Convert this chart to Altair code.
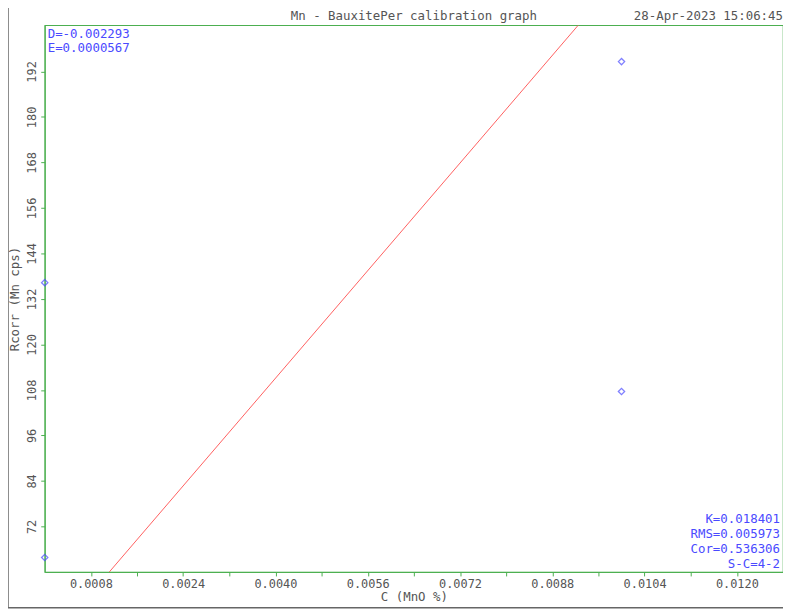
import altair as alt
import pandas as pd

# Data
pts_c = [0.0, 0.0, 0.0100, 0.0100]
pts_r = [63.8, 136.3, 194.6, 107.6]

line_c = [0.00112, 0.00925]
line_r = [60.0, 204.2]

x_ticks = [0.0008, 0.0016, 0.0024, 0.0032, 0.0040, 0.0048, 0.0056, 0.0064,
           0.0072, 0.0080, 0.0088, 0.0096, 0.0104, 0.0112, 0.0120]
y_ticks = [72, 84, 96, 108, 120, 132, 144, 156, 168, 180, 192]

title_text = "Mn - BauxitePer calibration graph"
date_text = "28-Apr-2023 15:06:45"
top_left_text = ["D=-0.002293", "E=0.0000567"]
bottom_right_text = ["K=0.018401", "RMS=0.005973", "Cor=0.536306", "S-C=4-2"]

FONT = "DejaVu Sans Mono"
GREEN = "#4caf50"
GRAY = "#555555"
BLUE = "#4a4aff"
RED = "#ff6060"

W, H = 744, 551

pts = pd.DataFrame({"c": pts_c, "r": pts_r})
ln = pd.DataFrame({"c": line_c, "r": line_r})

xs = alt.Scale(domain=[0, 0.0128], nice=False, zero=False)
ys = alt.Scale(domain=[60, 204.2], nice=False, zero=False)

x_axis = alt.Axis(values=x_ticks, title="C (MnO %)", grid=False,
                  labelExpr="(round(datum.value/0.0008) % 2 == 1) ? format(datum.value, '.4f') : ''",
                  tickSize=4, labelPadding=3, titlePadding=1)
y_axis = alt.Axis(values=y_ticks, title="Rcorr (Mn cps)", grid=False, format="d",
                  labelAngle=270, tickSize=4, labelPadding=2, titlePadding=4)

line = alt.Chart(ln).mark_line(color=RED, strokeWidth=1, clip=True).encode(
    x=alt.X("c:Q", scale=xs, axis=x_axis),
    y=alt.Y("r:Q", scale=ys, axis=y_axis),
)

points = alt.Chart(pts).mark_point(shape="diamond", filled=False, color=BLUE,
                                   size=40, strokeWidth=1.3).encode(
    x=alt.X("c:Q", scale=xs),
    y=alt.Y("r:Q", scale=ys),
)

def txt(text, x, y, align, color, size=12.5):
    return alt.Chart(pd.DataFrame({"t": [text]})).mark_text(
        align=align, baseline="middle", font=FONT, fontSize=size, color=color
    ).encode(text="t:N", x=alt.value(x), y=alt.value(y))

layers = [line, points]
layers.append(txt(title_text, W / 2, -9, "center", GRAY))
layers.append(txt(date_text, W, -9, "right", GRAY))
tl_y = [9, 23]
for t, yy in zip(top_left_text, tl_y):
    layers.append(txt(t, 3, yy, "left", BLUE))
br_y = [498, 513, 528, 543]
for t, yy in zip(bottom_right_text, br_y):
    layers.append(txt(t, 741, yy, "right", BLUE))

frame = alt.Chart(pd.DataFrame({"a": [0]})).mark_rule(color="#666666", strokeWidth=1.5).encode(
    x=alt.value(-37), y=alt.value(-25), y2=alt.value(587))
frame2 = alt.Chart(pd.DataFrame({"a": [0]})).mark_rule(color="#666666", strokeWidth=1.5).encode(
    x=alt.value(-37), x2=alt.value(760), y=alt.value(587))
layers += [frame, frame2]

chart = alt.layer(*layers).properties(
    width=W, height=H,
    autosize=alt.AutoSizeParams(type="none"),
    padding={"left": 37, "top": 15, "right": 0, "bottom": 36},
).configure_view(stroke=GREEN, strokeWidth=1.2).configure_axis(
    domainColor=GREEN, tickColor=GREEN, labelColor=GRAY, titleColor=GRAY,
    labelFont=FONT, titleFont=FONT, labelFontSize=12, titleFontSize=12.5,
    titleFontWeight="normal",
)

chart.save("out.html", embed_options={"renderer": "svg", "actions": False})
